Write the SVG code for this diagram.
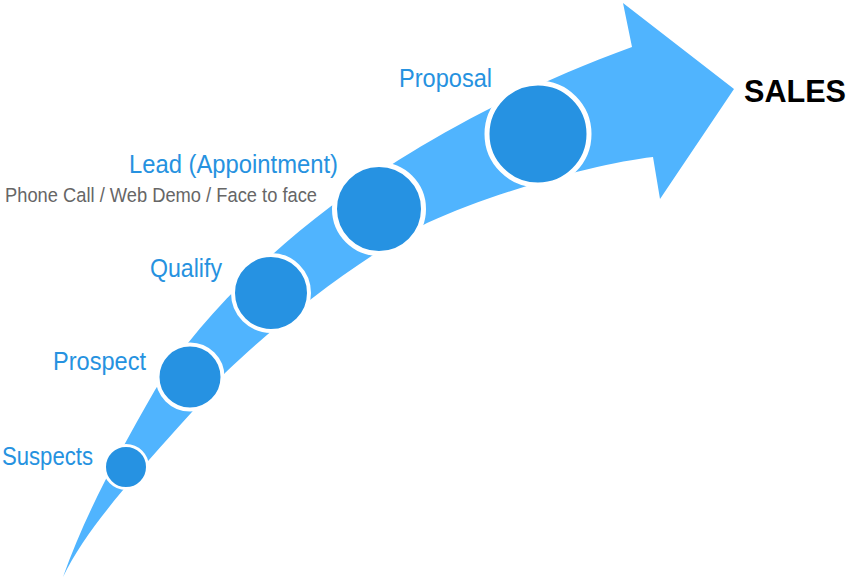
<svg xmlns="http://www.w3.org/2000/svg" width="849" height="584" viewBox="0 0 849 584">
<style>
.lbl{font-family:"Liberation Sans",Arial,sans-serif;fill:#2692e0;font-size:25px}
.sub{font-family:"Liberation Sans",Arial,sans-serif;fill:#666666;font-size:20.5px}
.big{font-family:"Liberation Sans",Arial,sans-serif;fill:#000000;font-size:31px;font-weight:bold}
.dot{fill:#2692e2;stroke:#ffffff}
</style>
<rect width="849" height="584" fill="#ffffff"/>
<g id="connectors">
<path id="arrow" fill="#50b4fe" d="M63,577 C85,515 115,460 155,390 C195,325 260,260 330,207 C400,155 500,95 632,47 L623,3 L734,89 L660,199 L653,157 C600,163 500,190 427,223 C360,258 280,320 225,373 C180,430 95,510 63,577 Z"/>
</g>
<g id="suspects">
<circle class="dot" cx="126" cy="467" r="21.5" stroke-width="3"/>
<text class="lbl" x="2" y="465" textLength="91" lengthAdjust="spacingAndGlyphs">Suspects</text>
</g>
<g id="prospect">
<circle class="dot" cx="190" cy="377" r="32.5" stroke-width="4"/>
<text class="lbl" x="53" y="370" textLength="93" lengthAdjust="spacingAndGlyphs">Prospect</text>
</g>
<g id="qualify">
<circle class="dot" cx="271" cy="293" r="38" stroke-width="4"/>
<text class="lbl" x="150" y="277" textLength="72" lengthAdjust="spacingAndGlyphs">Qualify</text>
</g>
<g id="lead">
<circle class="dot" cx="379" cy="209" r="44.5" stroke-width="5"/>
<text class="lbl" x="129" y="173" style="font-size:26.5px" textLength="209" lengthAdjust="spacingAndGlyphs">Lead (Appointment)</text>
<text class="sub" x="5" y="202" textLength="312" lengthAdjust="spacingAndGlyphs">Phone Call / Web Demo / Face to face</text>
</g>
<g id="proposal">
<circle class="dot" cx="538" cy="134" r="51" stroke-width="5"/>
<text class="lbl" x="399" y="87" textLength="93" lengthAdjust="spacingAndGlyphs">Proposal</text>
</g>
<g id="sales">
<text class="big" x="744" y="102" textLength="102" lengthAdjust="spacingAndGlyphs">SALES</text>
</g>
</svg>
